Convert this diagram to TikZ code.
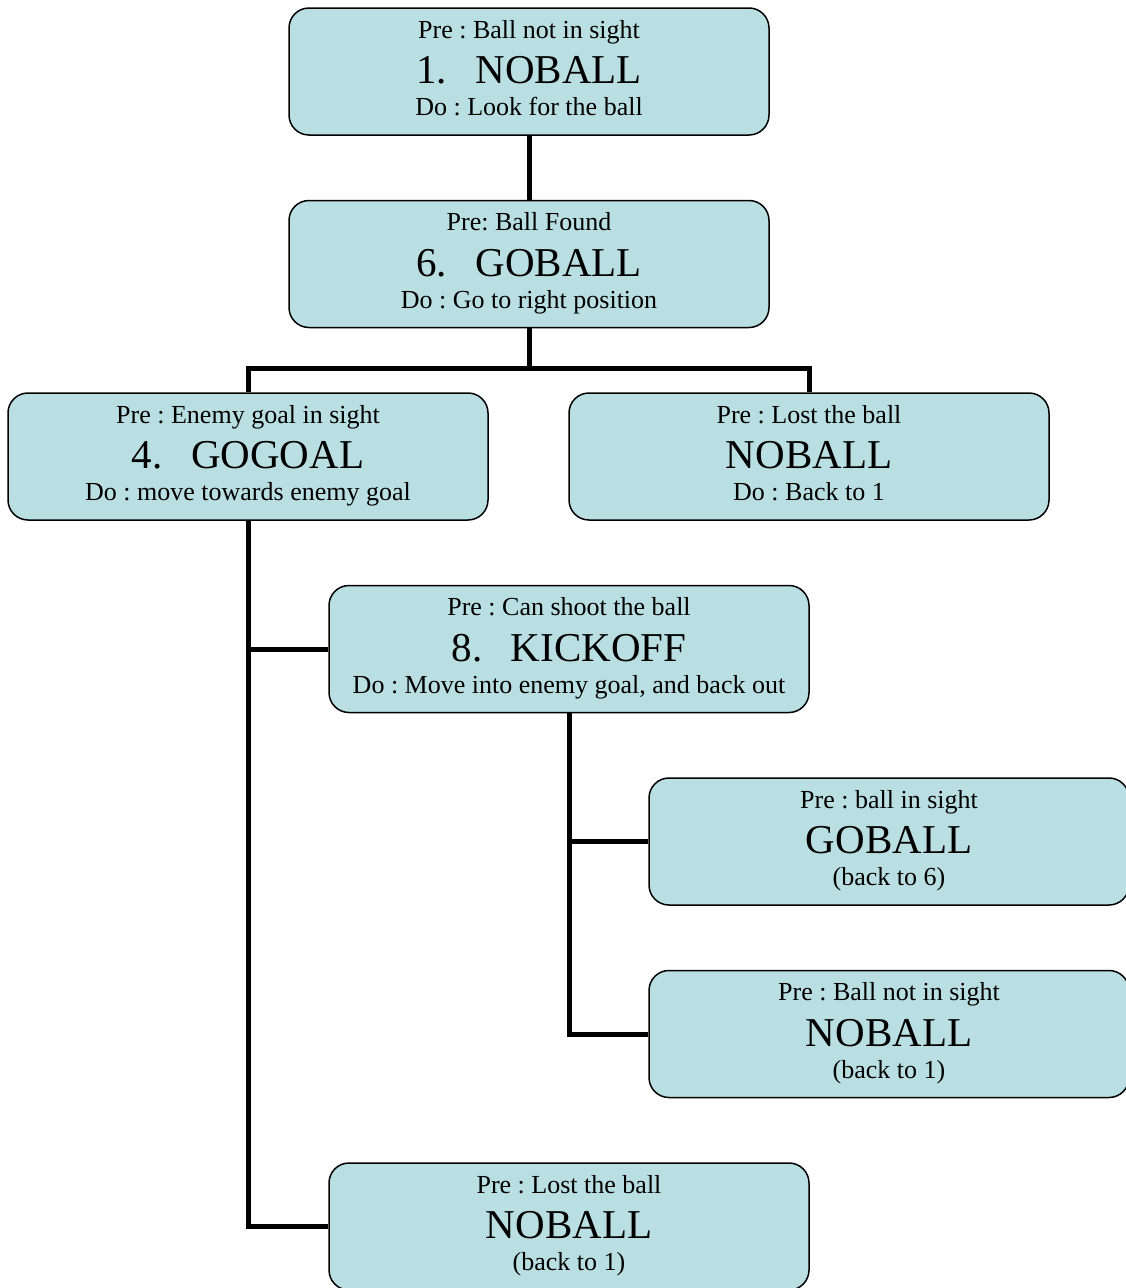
\documentclass[tikz,border=0pt]{standalone}
\usepackage{fontspec}
\setmainfont{Liberation Serif}
\frenchspacing
\definecolor{boxfill}{HTML}{B9DFE3}
\tikzset{
  statebox/.style={draw=black, line width=1.5pt, fill=boxfill, rounded corners=20pt,
    minimum width=480pt, minimum height=127pt, inner sep=0pt},
  smalltxt/.style={anchor=base, inner sep=0pt, font=\fontsize{26}{30}\selectfont},
  bigtxt/.style={anchor=base, inner sep=0pt, font=\fontsize{41}{46}\selectfont},
  conn/.style={line width=5pt, draw=black, line join=miter}
}
\newcommand\stbox[5]{%
  \node[statebox] (#1) at (#2) {};
  \node[smalltxt] (#1p) at ([yshift=33.5pt]#1.center) {#3};
  \node[bigtxt] (#1t) at ([yshift=-12pt]#1.center) {#4};
  \node[smalltxt] (#1d) at ([yshift=-44pt]#1.center) {#5};
}
\begin{document}
\begin{tikzpicture}[x=1pt,y=-1pt]
\useasboundingbox (0,0) rectangle (1126,1288);
\clip (0,0) rectangle (1126,1288);
\coordinate (j2) at (529,368);
\stbox{b1}{529,71.5}{Pre : Ball not in sight}{1.\hspace{0.7em}NOBALL}{Do : Look for the ball}
\stbox{b2}{529,264}{Pre: Ball Found}{6.\hspace{0.7em}GOBALL}{Do : Go to right position}
\stbox{b3}{248,456.5}{Pre : Enemy goal in sight}{4.\hspace{0.7em}GOGOAL}{Do : move towards enemy goal}
\stbox{b4}{809,456.5}{Pre : Lost the ball}{NOBALL}{Do : Back to 1}
\stbox{b5}{569,649}{Pre : Can shoot the ball}{8.\hspace{0.7em}KICKOFF}{Do : Move into enemy goal, and back out}
\stbox{b6}{889,841.5}{Pre : ball in sight}{GOBALL}{(back to 6)}
\stbox{b7}{889,1034}{Pre : Ball not in sight}{NOBALL}{(back to 1)}
\stbox{b8}{569,1226.5}{Pre : Lost the ball}{NOBALL}{(back to 1)}
\draw[conn] (b1.south) -- (b2.north);
\draw[conn] (b2.south) -- (j2) -| (b3.north);
\draw[conn] (j2) -| (b4.north);
\draw[conn] (b3.south) |- (b8.west);
\draw[conn] (b3.south |- b5.west) -- (b5.west);
\draw[conn] (b5.south) |- (b7.west);
\draw[conn] (b5.south |- b6.west) -- (b6.west);
\end{tikzpicture}
\end{document}
